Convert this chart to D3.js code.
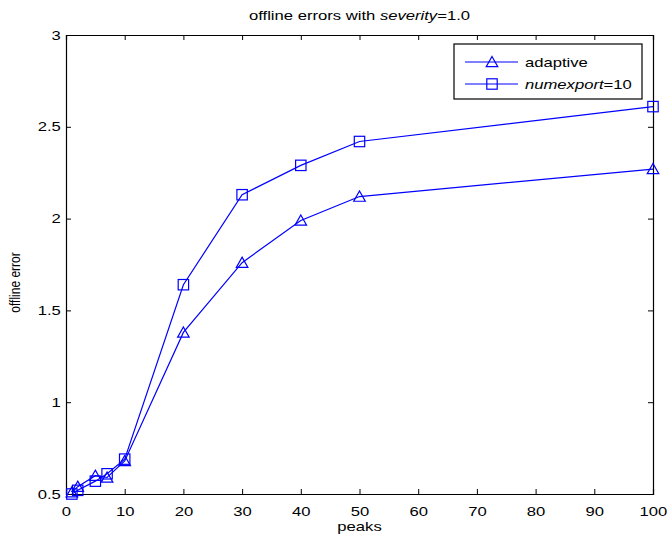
<!DOCTYPE html>
<html><head><meta charset="utf-8">
<script src="https://cdn.jsdelivr.net/npm/d3@7"></script>
<style>
body{margin:0;background:#fff;}
text{font-family:"Liberation Sans",Arial,Helvetica,sans-serif;}
</style></head>
<body>
<svg id="chart" width="667" height="543"></svg>
<script>
const peaks = [1, 2, 5, 7, 10, 20, 30, 40, 50, 100];
const adaptive = [0.51, 0.54, 0.60, 0.59, 0.68, 1.38, 1.76, 1.99, 2.12, 2.27];
const numexport10 = [0.50, 0.52, 0.57, 0.61, 0.69, 1.64, 2.13, 2.29, 2.42, 2.61];
const xTicks = [0, 10, 20, 30, 40, 50, 60, 70, 80, 90, 100];
const yTicks = [0.5, 1, 1.5, 2, 2.5, 3];

const SX = 1.28; // horizontal stretch of all text, as in the reference
const svg = d3.select("#chart");
const L = 66, R = 653, T = 35, B = 494;
const x = d3.scaleLinear().domain([0, 100]).range([L, R]);
const y = d3.scaleLinear().domain([0.5, 3]).range([B, T]);
const blue = "#0000ff";

const tk = 5;
const xAxisB = d3.axisBottom(x).tickValues(xTicks).tickSize(-tk).tickPadding(13).tickFormat(d3.format("d"));
const xAxisT = d3.axisTop(x).tickValues(xTicks).tickSize(-tk).tickFormat("");
const yAxisL = d3.axisLeft(y).tickValues(yTicks).tickSize(-tk).tickPadding(4).tickFormat(d => String(d));
const yAxisR = d3.axisRight(y).tickValues(yTicks).tickSize(-tk).tickFormat("");

function style(g){
  g.select(".domain").attr("stroke","#000").attr("stroke-width",1.2);
  g.selectAll(".tick line").attr("stroke","#000");
  g.selectAll(".tick text").attr("fill","#000").style("font-size","13px")
    .style("font-family","Liberation Sans, Arial, sans-serif")
    .attr("transform", `scale(${SX},1)`);
}
svg.append("g").attr("transform",`translate(0,${B})`).call(xAxisB).call(style);
svg.append("g").attr("transform",`translate(0,${T})`).call(xAxisT).call(style);
svg.append("g").attr("transform",`translate(${L},0)`).call(yAxisL).call(style);
svg.append("g").attr("transform",`translate(${R},0)`).call(yAxisR).call(style);

const line = d3.line().x((d,i)=>x(peaks[i])).y(d=>y(d));

function drawMarker(g, cx, cy, marker){
  if(marker==="tri"){
    const h = 5.5;
    g.append("path").attr("d",`M${cx},${cy-h} L${cx+h*1.05},${cy+h*0.85} L${cx-h*1.05},${cy+h*0.85} Z`)
      .attr("fill","none").attr("stroke",blue).attr("stroke-width",1.2);
  } else {
    const s = 5.2;
    g.append("rect").attr("x",cx-s).attr("y",cy-s).attr("width",2*s).attr("height",2*s)
      .attr("fill","none").attr("stroke",blue).attr("stroke-width",1.2);
  }
}
function drawSeries(vals, marker){
  svg.append("path").datum(vals).attr("d", line).attr("fill","none").attr("stroke",blue).attr("stroke-width",1.2);
  const g = svg.append("g");
  vals.forEach((v,i)=> drawMarker(g, x(peaks[i]), y(v), marker));
}
drawSeries(adaptive, "tri");
drawSeries(numexport10, "sq");

function stretchedText(px, py, rot){
  return svg.append("g").attr("transform",`translate(${px},${py}) scale(${SX},1)${rot?` rotate(${rot})`:""}`)
    .append("text").attr("x",0).attr("y",0).style("font-size","13px").attr("fill","#000");
}

// title
const title = stretchedText((L+R)/2, 20).attr("text-anchor","middle");
title.append("tspan").text("offline errors with ");
title.append("tspan").attr("font-style","italic").text("severity");
title.append("tspan").text("=1.0");

// axis labels
stretchedText((L+R)/2, 531).attr("text-anchor","middle").text("peaks");
stretchedText(20, (T+B)/2+18, -90).attr("text-anchor","middle").style("font-size","12px").text("offline error");

// legend
const lg = svg.append("g");
lg.append("rect").attr("x",454).attr("y",44).attr("width",188).attr("height",55)
  .attr("fill","#fff").attr("stroke","#000").attr("stroke-width",1.2);
const legendItems = [
  {marker:"tri", label:[{t:"adaptive"}]},
  {marker:"sq", label:[{t:"numexport", it:true},{t:"=10"}]}
];
legendItems.forEach((it,i)=>{
  const yy = 62 + i*22;
  lg.append("line").attr("x1",465).attr("x2",518).attr("y1",yy).attr("y2",yy).attr("stroke",blue).attr("stroke-width",1.2);
  drawMarker(lg, 492, yy, it.marker);
  const t = lg.append("g").attr("transform",`translate(525,${yy+4.5}) scale(${SX},1)`)
    .append("text").style("font-size","13px").attr("fill","#000");
  it.label.forEach(p=> t.append("tspan").attr("font-style", p.it?"italic":"normal").text(p.t));
});
</script>
</body></html>
